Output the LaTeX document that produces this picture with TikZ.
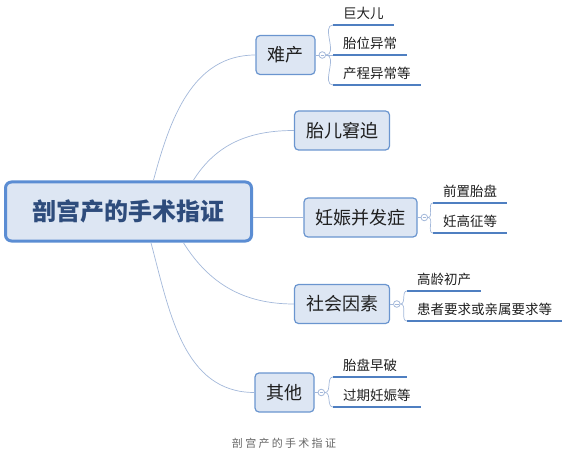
\documentclass[tikz,border=0pt]{standalone}
\usepackage{fontspec}
\setmainfont{Noto Sans CJK SC}
\usepackage{tikz}
\usetikzlibrary{calc,positioning}
\definecolor{boxfill}{HTML}{DDE6F3}
\definecolor{boxline}{HTML}{6A95CF}
\definecolor{rootline}{HTML}{5B8DD3}
\definecolor{rootink}{HTML}{2E4C7C}
\definecolor{linkc}{HTML}{A3B8DA}
\definecolor{ulinec}{HTML}{4F7FC1}
\definecolor{ink}{HTML}{1F1F1F}
\tikzset{
  rootbox/.style={draw=rootline,line width=3pt,rounded corners=6pt,fill=boxfill,text=rootink,
    font=\fontsize{24}{28}\selectfont\bfseries,minimum width=246pt,minimum height=59pt},
  topic/.style={draw=boxline,line width=1.2pt,rounded corners=4pt,fill=boxfill,text=ink,
    font=\fontsize{18}{22}\selectfont,inner xsep=11.5pt,minimum height=39pt},
  leaf/.style={anchor=south west,text=ink,font=\fontsize{13.5}{16}\selectfont,inner xsep=10pt,inner ysep=5pt},
  knob/.style={circle,draw=linkc,line width=0.8pt,fill=white,inner sep=0pt,minimum size=6.6pt,
    path picture={\draw[linkc,line width=0.6pt] ([xshift=-1.8pt]path picture bounding box.center)--([xshift=1.8pt]path picture bounding box.center);}},
  link/.style={linkc,line width=0.7pt},
  uline/.style={ulinec,line width=2pt}
}
\newcommand{\lsp}{\kern2.3pt}

\begin{document}
\begin{tikzpicture}[x=1pt,y=1pt]
\useasboundingbox (0,0) rectangle (570,-457);
% centre
\node[rootbox] (root) at (128.5,-211.5) {剖宫产的手术指证};
% main topics
\node[topic] (nc) at (285.5,-55) {难产};
\node[topic] (tejp) at (342,-130.5) {胎儿窘迫};
\node[topic] (rs) at (360.5,-217.5) {妊娠并发症};
\node[topic] (sh) at (342,-304) {社会因素};
\node[topic] (qt) at (284.5,-392.5) {其他};
\draw[link] ($(root.north west)!0.60!(root.north east)$) to[out=75,in=180] (nc.west);
\draw[link] ($(root.north west)!0.76!(root.north east)$) to[out=58,in=180] (tejp.west);
\draw[link] (root.east |- rs.west) -- (rs.west);
\draw[link] ($(root.south west)!0.72!(root.south east)$) to[out=-58,in=180] (sh.west);
\draw[link] ($(root.south west)!0.59!(root.south east)$) to[out=-75,in=180] (qt.west);
% knobs
\node[knob,right=3pt of nc] (knc) {};
\node[knob,right=3pt of rs] (krs) {};
\node[knob,right=3pt of sh] (ksh) {};
\node[knob,right=3pt of qt] (kqt) {};
\foreach \t/\k in {nc/knc,rs/krs,sh/ksh,qt/kqt}
  \draw[link] (\t.east) -- (\k.west);
% sub topics
\node[leaf] (nc1) at (333,-25) {巨大儿};
\node[leaf] (nc2) at (333,-55) {胎位异常};
\node[leaf] (nc3) at (333,-85) {产程异常等};
\node[leaf] (rs1) at (433,-203) {前置胎盘};
\node[leaf] (rs2) at (433,-233) {妊高征等};
\node[leaf] (sh1) at (407,-291) {高龄初产};
\node[leaf] (sh2) at (407,-321) {患者要求或亲属要求等};
\node[leaf] (qt1) at (333,-377) {胎盘早破};
\node[leaf] (qt2) at (333,-407) {过期妊娠等};
\foreach \k/\l in {knc/nc1,knc/nc2,knc/nc3,krs/rs1,krs/rs2,ksh/sh1,ksh/sh2,kqt/qt1,kqt/qt2}{
  \draw[link] (\k.east) to[out=0,in=180] (\l.south west);
  \draw[uline] (\l.south west) -- (\l.south east);
}
% caption
\node[text=gray!80!black,font=\fontsize{11}{13}\selectfont] (cap) at (284,-443.5)
  {剖\lsp 宫\lsp 产\lsp 的\lsp 手\lsp 术\lsp 指\lsp 证};
\end{tikzpicture}
\end{document}
